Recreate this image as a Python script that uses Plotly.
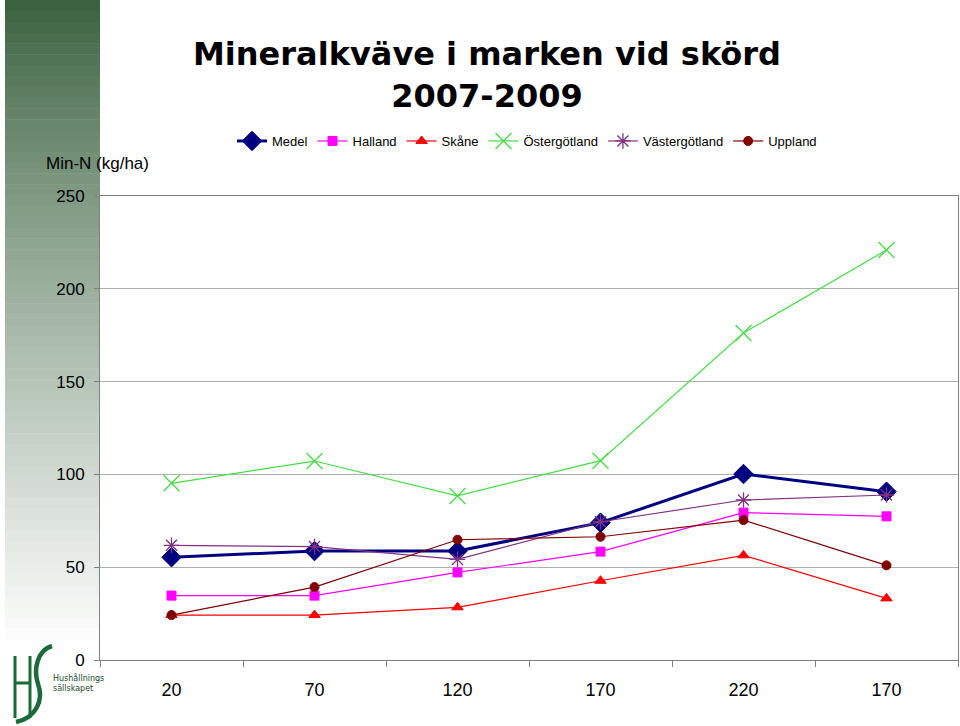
import plotly.graph_objects as go

categories = ["20", "70", "120", "170", "220", "170"]
medel = [55.4, 58.7, 58.7, 74.0, 100.2, 90.7]
halland = [34.7, 34.7, 47.2, 58.4, 79.4, 77.4]
skane = [24.2, 24.2, 28.4, 42.7, 56.4, 33.2]
ostergotland = [95.2, 107.2, 88.4, 107.4, 176.2, 220.9]
vastergotland = [61.8, 61.1, 54.2, 74.5, 86.2, 88.9]
uppland = [24.2, 39.3, 64.8, 66.4, 75.4, 51.0]
y_ticks = [0, 50, 100, 150, 200, 250]

x = list(range(len(categories)))

series = [
    ("Medel", medel, "#000080", 3, "diamond", 15, 1),
    ("Halland", halland, "#FF00FF", 1.2, "square", 9, 1),
    ("Skåne", skane, "#FF0000", 1.2, "triangle-up", 10, 1),
    ("Östergötland", ostergotland, "#44DD44", 1.2, "x-thin-open", 16, 1.3),
    ("Västergötland", vastergotland, "#803380", 1.2, "asterisk-open", 13, 1.3),
    ("Uppland", uppland, "#800000", 1.2, "circle", 9, 1),
]

fig = go.Figure()
for name, vals, color, lw, sym, ms, mlw in series:
    fig.add_trace(go.Scatter(
        x=x, y=vals, name=name, mode="lines+markers",
        line=dict(color=color, width=lw),
        marker=dict(symbol=sym, size=ms, color=color, line=dict(color=color, width=mlw)),
        cliponaxis=False,
    ))

# layout geometry in pixels
W, H = 960, 726
PL, PR, PT, PB = 100, 958, 196, 660
def px2x(p):
    return (p - PL) / (PR - PL)
def py2y(p):
    return (PB - p) / (PB - PT)

shapes = []
# gradient bar on the left (decoration)
n = 60
top, bot = 0, 650
c0 = (55, 95, 60)
c1 = (255, 255, 255)
for i in range(n):
    y0 = top + (bot - top) * i / n
    y1 = top + (bot - top) * (i + 1) / n
    t = ((i + 0.5) / n) ** 0.85
    c = tuple(int(round(c0[k] + (c1[k] - c0[k]) * t)) for k in range(3))
    shapes.append(dict(type="rect", xref="paper", yref="paper",
                       x0=px2x(5), x1=px2x(100), y0=py2y(y1 + 0.5), y1=py2y(y0),
                       fillcolor="rgb(%d,%d,%d)" % c, line=dict(width=0), layer="below"))

# logo (decoration): H and S drawn as paths
def pt(px, py):
    return "%.5f %.5f" % (px2x(px), py2y(py))
logo_green = "#1b6b3a"
shapes.append(dict(type="path", xref="paper", yref="paper",
                   path="M %s L %s M %s L %s M %s L %s" % (
                       pt(15, 656), pt(15, 718), pt(30, 656), pt(30, 718), pt(15, 683), pt(30, 683)),
                   line=dict(color=logo_green, width=3)))
shapes.append(dict(type="path", xref="paper", yref="paper",
                   path="M %s C %s, %s, %s C %s, %s, %s" % (
                       pt(52, 646), pt(38, 650), pt(33, 668), pt(38, 684),
                       pt(44, 700), pt(36, 718), pt(16, 722)),
                   line=dict(color=logo_green, width=4.5)))

annotations = [
    dict(text="<b>Mineralkväve i marken vid skörd<br>2007-2009</b>", xref="paper", yref="paper",
         x=px2x(487), y=py2y(75), xanchor="center", yanchor="middle", showarrow=False,
         font=dict(size=32, color="black", family="DejaVu Sans")),
    dict(text="Min-N (kg/ha)", xref="paper", yref="paper", x=px2x(44), y=py2y(163),
         xanchor="left", yanchor="middle", showarrow=False,
         font=dict(size=17, color="black", family="Liberation Sans, Arial")),
    dict(text="Hushållnings<br>sällskapet", xref="paper", yref="paper", x=px2x(51), y=py2y(683),
         xanchor="left", yanchor="middle", showarrow=False, align="left",
         font=dict(size=8, color="#1b4b2a", family="DejaVu Sans")),
]

fig.update_layout(
    width=W, height=H,
    margin=dict(l=PL, r=W - PR, t=PT, b=H - PB, pad=0, autoexpand=False),
    plot_bgcolor="white", paper_bgcolor="white",
    font=dict(family="Liberation Sans, Arial", color="black"),
    shapes=shapes, annotations=annotations,
    legend=dict(orientation="h", x=px2x(527), y=py2y(141), xanchor="center", yanchor="middle",
                font=dict(size=13), bgcolor="rgba(0,0,0,0)", itemwidth=30, tracegroupgap=0),
    showlegend=True,
)
fig.update_xaxes(
    range=[-0.5, 5.5], tickmode="array", tickvals=x, ticktext=categories,
    ticks="", showgrid=False, zeroline=False,
    showline=True, linecolor="#808080", linewidth=1, mirror=True,
    tickfont=dict(size=18), ticklabelstandoff=13,
    minor=dict(tickmode="array", tickvals=[i - 0.5 for i in range(len(categories) + 1)],
               ticks="outside", ticklen=6, tickcolor="#808080", showgrid=False),
)
fig.update_yaxes(
    range=[0, 250], tickmode="array", tickvals=y_ticks,
    ticks="outside", ticklen=5, tickcolor="#808080",
    showgrid=True, gridcolor="#B0B0B0", gridwidth=1, zeroline=False,
    showline=True, linecolor="#808080", linewidth=1, mirror=True,
    tickfont=dict(size=17), ticklabelstandoff=6,
)

fig.write_html("out.html", config={"displayModeBar": False},
               post_script="document.body.style.margin='0';document.body.style.overflow='hidden';")
